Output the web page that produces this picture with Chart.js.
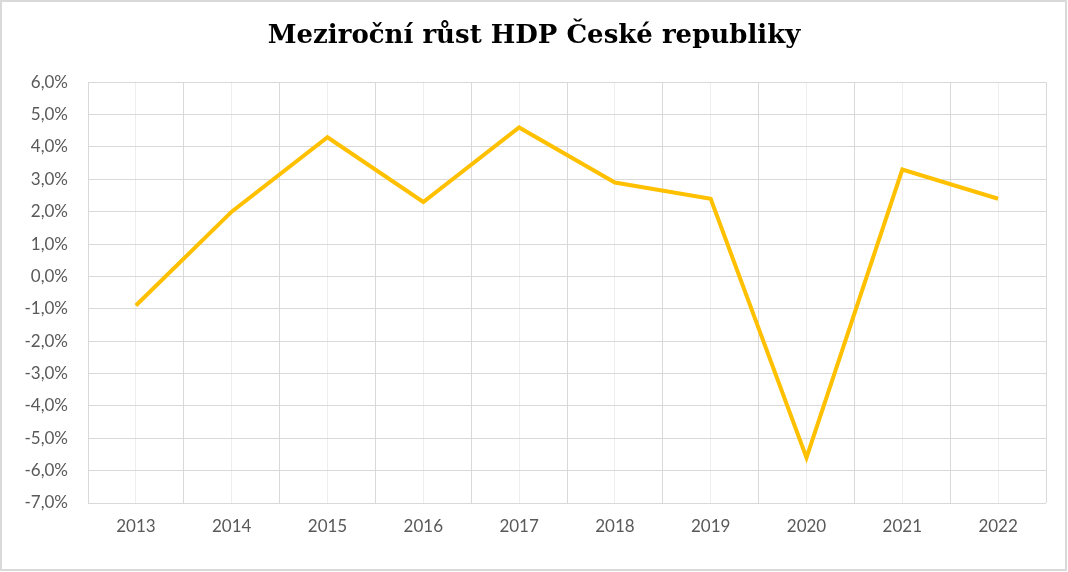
<!DOCTYPE html>
<html>
<head>
<meta charset="utf-8">
<script src="https://cdn.jsdelivr.net/npm/chart.js@4"></script>
<style>
  body { margin: 0; background: #fff; }
  #wrap { width: 1068px; height: 572px; }
</style>
</head>
<body>
<div id="wrap"><canvas id="line-chart" width="1068" height="572"></canvas></div>
<script>
// data (percent)
var years = ["2013", "2014", "2015", "2016", "2017", "2018", "2019", "2020", "2021", "2022"];
var growth = [-0.9, 2.0, 4.3, 2.3, 4.6, 2.9, 2.4, -5.6, 3.3, 2.4];
var yMin = -7;
var yMax = 6;
var chartTitle = "Meziroční růst HDP České republiky";

var frame = {
  id: 'frame',
  beforeDraw: function (chart) {
    var ctx = chart.ctx;
    ctx.save();
    ctx.fillStyle = '#ffffff';
    ctx.fillRect(0, 0, chart.width, chart.height);
    ctx.strokeStyle = '#d9d9d9';
    ctx.lineWidth = 2;
    ctx.strokeRect(1, 1, chart.width - 3, chart.height - 3);
    ctx.restore();
  }
};

new Chart(document.getElementById("line-chart"), {
  type: 'line',
  data: {
    labels: years,
    datasets: [{
      label: "HDP",
      data: growth,
      borderColor: "#ffc000",
      borderWidth: 4,
      pointRadius: 0,
      fill: false,
      tension: 0
    }]
  },
  options: {
    responsive: false,
    animation: false,
    layout: { padding: { left: 22, right: 22, top: 0, bottom: 0 } },
    plugins: {
      legend: { display: false },
      tooltip: { enabled: false },
      title: {
        display: true,
        text: chartTitle,
        color: '#000000',
        font: { family: 'DejaVu Serif', size: 26, weight: 'bold', lineHeight: 1.2 },
        padding: { top: 21, bottom: 30 }
      }
    },
    scales: {
      x2: {
        type: 'category',
        position: 'bottom',
        offset: true,
        z: -1,
        grid: { offset: false, color: '#eeeeee', lineWidth: 1, drawTicks: false },
        border: { display: false },
        ticks: { display: false },
        afterFit: function (s) { s.height = 0; }
      },
      x: {
        offset: true,
        grid: { offset: true, color: '#d9d9d9', lineWidth: 1, drawTicks: false },
        border: { display: false },
        ticks: {
          color: '#595959',
          font: { family: 'Lato', size: 17 },
          padding: 13,
          maxRotation: 0
        },
        afterFit: function (s) { s.height = 69; }
      },
      y: {
        min: yMin,
        max: yMax,
        grid: { color: '#d9d9d9', lineWidth: 1, drawTicks: false },
        border: { display: false },
        ticks: {
          stepSize: 1,
          color: '#595959',
          font: { family: 'Lato', size: 17 },
          padding: 20,
          callback: function (v) { return v.toFixed(1).replace('.', ',') + '%'; }
        },
        afterFit: function (s) { s.width = 66; }
      }
    }
  },
  plugins: [frame]
});
</script>
</body>
</html>
